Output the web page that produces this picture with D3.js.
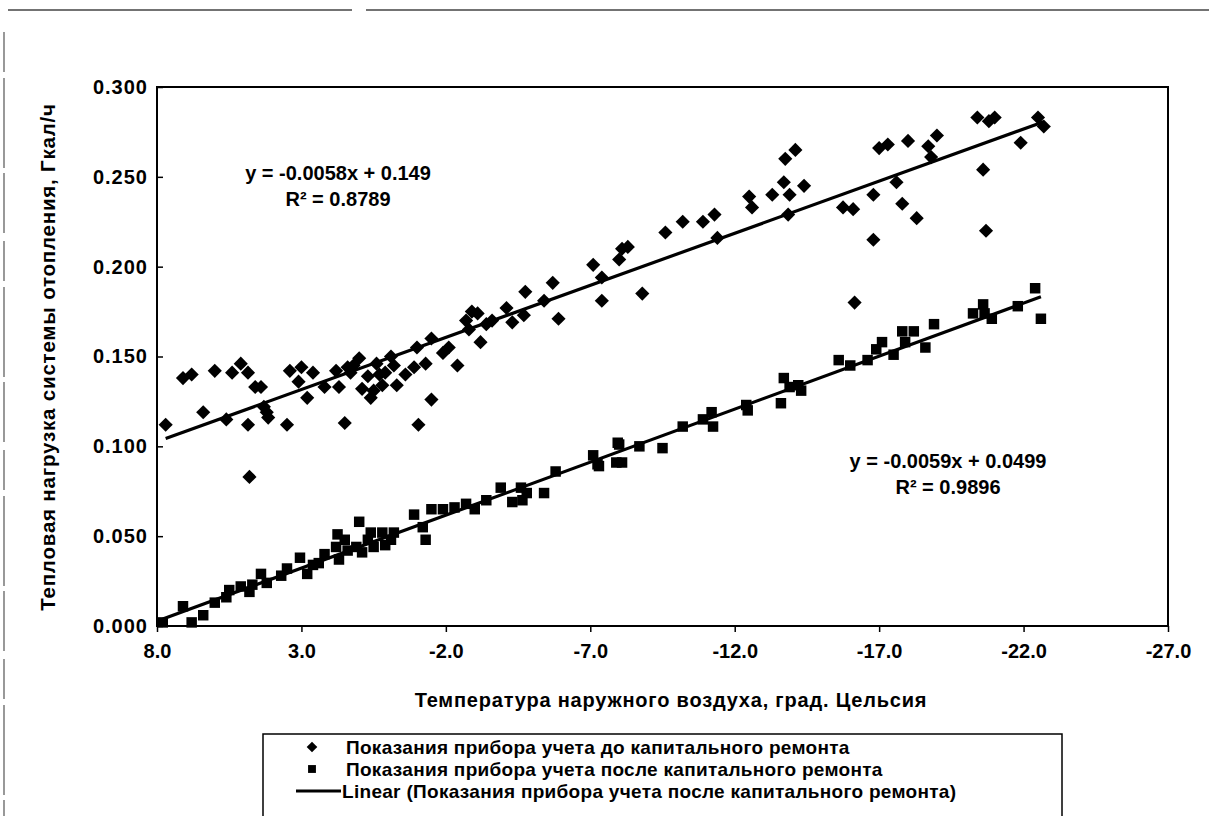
<!DOCTYPE html>
<html>
<head>
<meta charset="utf-8">
<script src="https://cdn.jsdelivr.net/npm/d3@7"></script>
<style>
  body { margin: 0; background: #fff; }
  text { font-family: "Liberation Sans", Arial, sans-serif; font-weight: bold; fill: #000; }
</style>
</head>
<body>
<svg id="chart" width="1209" height="816"></svg>
<script>
// readings before the overhaul (diamonds)
var beforeX = [7.7, 7.1, 6.8, 6.4, 6.0, 5.6, 5.4, 5.1, 4.85, 4.85, 4.8, 4.6, 4.4, 4.3, 4.2, 4.15, 3.5, 3.4, 3.0, 2.6,
  3.1, 2.8, 2.2, 1.8, 1.7, 1.5, 1.4, 1.0, 0.9, 0.6, 0.7, 0.4, 0.2, 0.1, -0.1, -0.3, -0.2, -1.0, -0.9, -1.05,
  -1.3, -1.5, -1.5, -1.9, -2.1, -2.4, -2.7, -2.9, -3.1, -2.8, -3.2, -3.4, -3.6, 1.2, 0.5, 0.3, 1.3, -0.6,
  -4.1, -4.3, -4.7, -4.75, -5.4, -5.7, -5.9, -7.1, -7.4, -7.4, -8.1, -8.3, -8.0, -8.8, -9.6, -10.2, -10.9,
  -11.3, -11.4, -12.5, -12.6, -13.7, -13.9, -13.3, -14.4, -13.85, -13.75, -14.1, -15.75, -16.1, -16.8, -17.6,
  -17.8, -18.3, -16.8, -17.0, -17.3, -18.0, -18.7, -19.0, -18.8, -20.4, -20.8, -21.0, -21.9, -22.5, -22.7,
  -20.6, -20.7, -16.15];
var beforeY = [0.112, 0.138, 0.140, 0.119, 0.142, 0.115, 0.141, 0.146, 0.141, 0.112, 0.083, 0.133, 0.133, 0.122, 0.119, 0.116, 0.112, 0.142, 0.144, 0.141,
  0.136, 0.127, 0.133, 0.142, 0.133, 0.113, 0.144, 0.149, 0.132, 0.127, 0.139, 0.146, 0.134, 0.141, 0.150, 0.134, 0.145, 0.155, 0.144, 0.112,
  0.146, 0.126, 0.160, 0.152, 0.155, 0.145, 0.170, 0.175, 0.174, 0.165, 0.158, 0.168, 0.170, 0.145, 0.131, 0.140, 0.141, 0.140,
  0.177, 0.169, 0.173, 0.186, 0.181, 0.191, 0.171, 0.201, 0.194, 0.181, 0.210, 0.211, 0.204, 0.185, 0.219, 0.225, 0.225,
  0.229, 0.216, 0.239, 0.233, 0.247, 0.240, 0.240, 0.245, 0.229, 0.260, 0.265, 0.233, 0.232, 0.240, 0.247,
  0.235, 0.227, 0.215, 0.266, 0.268, 0.270, 0.267, 0.273, 0.261, 0.283, 0.281, 0.283, 0.269, 0.283, 0.278,
  0.254, 0.220, 0.180];

// readings after the overhaul (squares)
var afterX = [7.8, 7.1, 6.8, 6.4, 6.0, 5.6, 5.1, 4.8, 4.7, 4.4, 4.2, 3.5, 3.05, 2.8, 2.6, 2.2, 1.8, 1.7, 1.5, 1.1,
  1.0, 0.9, 0.7, 0.5, 0.2, -0.1, -0.2, -0.9, -1.2, -1.3, -1.5, -1.9, -2.3, -2.7, -3.0, -3.4, -3.9, -4.3, -4.6, -4.65,
  -4.8, -5.4, -5.8, -7.1, -7.3, -7.9, -8.0, 1.4, 1.75, 0.6, 0.1, 5.5, 3.7, 2.4,
  -7.25, -7.95, -8.1, -8.7, -9.5, -10.2, -10.9, -11.2, -11.25, -12.4, -12.45, -13.6, -13.9, -14.2,
  -13.7, -14.3, -15.6, -16.0, -16.6, -16.9, -17.1, -17.5, -17.8, -18.2, -17.9, -18.6, -18.9, -20.25, -20.6, -20.65,
  -20.9, -21.8, -22.4, -22.6];
var afterY = [0.002, 0.011, 0.002, 0.006, 0.013, 0.016, 0.022, 0.019, 0.023, 0.029, 0.024, 0.032, 0.038, 0.029, 0.034, 0.040, 0.044, 0.037, 0.048, 0.044,
  0.058, 0.041, 0.048, 0.044, 0.052, 0.048, 0.052, 0.062, 0.055, 0.048, 0.065, 0.065, 0.066, 0.068, 0.065, 0.070, 0.077, 0.069, 0.077, 0.070,
  0.074, 0.074, 0.086, 0.095, 0.089, 0.091, 0.101, 0.042, 0.051, 0.052, 0.045, 0.020, 0.028, 0.035,
  0.090, 0.102, 0.091, 0.100, 0.099, 0.111, 0.115, 0.119, 0.111, 0.123, 0.120, 0.124, 0.133, 0.134,
  0.138, 0.131, 0.148, 0.145, 0.148, 0.154, 0.158, 0.151, 0.164, 0.164, 0.158, 0.155, 0.168, 0.174, 0.179, 0.174,
  0.171, 0.178, 0.188, 0.171];

// linear trend lines as printed on the chart
var trendSlope = [-0.0058, -0.0059];
var trendIntercept = [0.149, 0.0499];
var trendText = [["y = -0.0058x + 0.149", "R\u00b2 = 0.8789"], ["y = -0.0059x + 0.0499", "R\u00b2 = 0.9896"]];

var xTicks = [8, 3, -2, -7, -12, -17, -22, -27];
var yTicks = [0, 0.05, 0.1, 0.15, 0.2, 0.25, 0.3];

var legendLabels = ["Показания прибора учета до капитального ремонта",
  "Показания прибора учета после капитального ремонта",
  "Linear (Показания прибора учета после капитального ремонта)"];

var svg = d3.select("#chart"),
    margin = {top: 87, left: 157},
    width = 1011,
    height = 539;

// scan frame lines
svg.append("line").attr("x1", 8).attr("x2", 352).attr("y1", 10).attr("y2", 10)
  .attr("stroke", "#444").attr("stroke-width", 1.3);
svg.append("line").attr("x1", 366).attr("x2", 1209).attr("y1", 10).attr("y2", 10)
  .attr("stroke", "#444").attr("stroke-width", 1.3);
svg.append("line").attr("x1", 4).attr("x2", 4).attr("y1", 32).attr("y2", 816)
  .attr("stroke", "#555").attr("stroke-width", 1.2).attr("stroke-dasharray", "40,6,90,5,60,8");

var g = svg.append("g").attr("transform", "translate(" + margin.left + "," + margin.top + ")");

var x = d3.scaleLinear().domain([8, -27]).range([0, width]);
var y = d3.scaleLinear().domain([0, 0.3]).range([height, 0]);

var xAxis = d3.axisBottom(x).tickValues(xTicks).tickSize(6).tickPadding(12)
  .tickFormat(function(d) { return d.toFixed(1); });
var yAxis = d3.axisLeft(y).tickValues(yTicks).tickSize(-6).tickPadding(9)
  .tickFormat(function(d) { return d.toFixed(3); });

var gx = g.append("g").attr("transform", "translate(0," + height + ")").call(xAxis);
var gy = g.append("g").call(yAxis);
[gx, gy].forEach(function(a) {
  a.select(".domain").remove();
  a.selectAll(".tick line").attr("stroke", "#000").attr("stroke-width", 1.5);
  a.selectAll(".tick text").style("font-size", "20px").style("font-family", null);
});
gy.selectAll(".tick text").style("letter-spacing", "1px");

g.append("rect").attr("width", width).attr("height", height)
  .attr("fill", "none").attr("stroke", "#000").attr("stroke-width", 2);

// trend lines across each series' range
[[beforeX, 0], [afterX, 1]].forEach(function(s) {
  var ext = d3.extent(s[0]), k = s[1];
  var pts = ext.map(function(v) { return [v, trendSlope[k] * v + trendIntercept[k]]; });
  g.append("path")
    .attr("d", d3.line().x(function(d) { return x(d[0]); }).y(function(d) { return y(d[1]); })(pts))
    .attr("stroke", "#000").attr("stroke-width", 3.2).attr("fill", "none");
});

var before = beforeX.map(function(v, i) { return [v, beforeY[i]]; });
var after = afterX.map(function(v, i) { return [v, afterY[i]]; });

var diamond = d3.symbol().type(d3.symbolSquare).size(100);
var square = d3.symbol().type(d3.symbolSquare).size(110);

g.selectAll(".before")
  .data(before)
  .enter().append("path")
    .attr("class", "before")
    .attr("d", diamond)
    .attr("transform", function(d) { return "translate(" + x(d[0]) + "," + y(d[1]) + ") rotate(45)"; })
    .attr("fill", "#000");

g.selectAll(".after")
  .data(after)
  .enter().append("path")
    .attr("class", "after")
    .attr("d", square)
    .attr("transform", function(d) { return "translate(" + x(d[0]) + "," + y(d[1]) + ")"; })
    .attr("fill", "#000");

// equation labels
var eqPos = [[338, 173], [948, 461]];
trendText.forEach(function(t, k) {
  t.forEach(function(line, j) {
    svg.append("text")
      .attr("x", eqPos[k][0]).attr("y", eqPos[k][1] + j * 26)
      .attr("text-anchor", "middle").attr("dy", "0.35em")
      .style("font-size", "20px")
      .text(line);
  });
});

// axis titles
svg.append("text")
  .attr("x", 671).attr("y", 700).attr("dy", "0.35em")
  .attr("text-anchor", "middle").style("font-size", "20px").style("letter-spacing", "0.8px")
  .text("Температура наружного воздуха, град. Цельсия");

svg.append("text")
  .attr("transform", "translate(48,357) rotate(-90)")
  .attr("text-anchor", "middle").attr("dy", "0.35em")
  .style("font-size", "20.5px").style("letter-spacing", "0.8px")
  .text("Тепловая нагрузка системы отопления, Гкал/ч");

// legend
var lg = svg.append("g");
lg.append("rect").attr("x", 263).attr("y", 734).attr("width", 799).attr("height", 100)
  .attr("fill", "none").attr("stroke", "#000").attr("stroke-width", 1.5);

var rowY = [747, 769, 791];
lg.append("path").attr("d", diamond).attr("transform", "translate(312," + rowY[0] + ") rotate(45) scale(0.75)");
lg.append("path").attr("d", square).attr("transform", "translate(312," + rowY[1] + ") scale(0.75)");
lg.append("line").attr("x1", 296).attr("x2", 341).attr("y1", rowY[2]).attr("y2", rowY[2])
  .attr("stroke", "#000").attr("stroke-width", 3);

legendLabels.forEach(function(t, i) {
  lg.append("text").attr("x", i < 2 ? 346 : 342).attr("y", rowY[i]).attr("dy", "0.35em")
    .style("font-size", "19px").style("letter-spacing", "0.3px").text(t);
});
</script>
</body>
</html>
